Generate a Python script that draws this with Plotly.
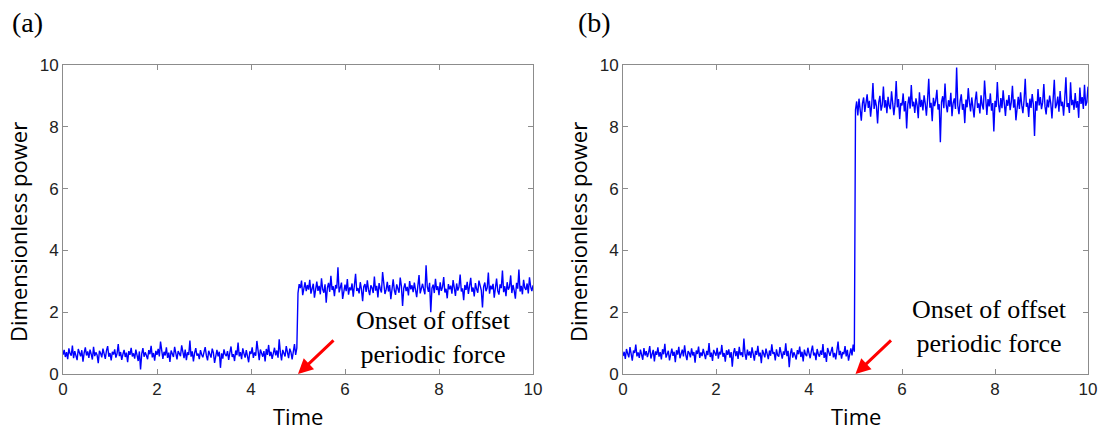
import numpy as np
import plotly.graph_objects as go

# ---- data ----
time_pre = np.arange(200) * 0.025          # 0 .. 4.975
time_post = 5.0 + np.arange(201) * 0.025   # 5.0 .. 10.0

a_pre = [0.62,0.78,0.55,0.71,0.48,0.83,0.66,0.59,0.92,0.51,
0.74,0.63,0.45,0.81,0.69,0.57,0.77,0.40,0.68,0.86,
0.60,0.73,0.52,0.79,0.64,0.47,0.88,0.58,0.70,0.62,
0.35,0.75,0.67,0.54,0.82,0.61,0.49,0.76,0.90,0.56,
0.68,0.44,0.72,0.63,0.80,0.53,0.66,0.97,0.58,0.71,
0.46,0.64,0.78,0.55,0.69,0.38,0.74,0.62,0.85,0.57,
0.67,0.50,0.79,0.61,0.42,0.73,0.15,0.65,0.84,0.56,
0.70,0.60,0.48,0.77,0.64,0.91,0.54,0.68,0.43,0.75,
0.62,0.81,0.57,1.05,0.66,0.49,0.72,0.60,0.86,0.52,
0.69,0.39,0.76,0.63,0.55,0.88,0.61,0.47,0.74,0.67,
0.58,0.93,0.64,0.51,0.79,0.45,0.70,0.62,1.08,0.56,
0.73,0.41,0.68,0.84,0.59,0.66,0.48,0.77,0.63,0.54,
0.71,0.87,0.60,0.44,0.75,0.65,0.53,0.82,0.69,0.36,
0.62,0.78,0.57,0.72,0.20,0.67,0.50,0.80,0.63,0.58,
0.74,0.46,0.69,0.89,0.55,0.64,0.42,0.76,0.61,1.02,
0.57,0.71,0.48,0.83,0.66,0.53,0.77,0.60,0.38,0.73,
0.65,0.86,0.52,0.70,0.59,1.07,0.63,0.45,0.79,0.68,
0.56,0.74,0.41,0.81,0.62,0.94,0.58,0.72,0.49,0.67,
0.85,0.60,0.76,0.53,1.12,0.69,0.44,0.78,0.63,0.57,
0.90,0.66,0.51,0.82,0.71,0.47,0.75,0.97,0.62,0.84]

a_post = [2.62,2.91,2.78,3.02,2.55,2.84,2.97,2.68,2.88,2.73,
3.05,2.60,2.81,2.92,2.47,2.76,2.99,2.69,2.85,2.58,
3.10,2.74,2.63,2.90,2.31,2.79,2.95,2.66,3.18,2.72,
2.84,2.52,2.88,2.77,3.45,2.64,2.81,2.96,2.43,2.75,
2.89,2.68,3.07,2.57,2.80,2.71,2.93,2.50,2.86,3.24,
2.69,2.78,2.61,2.97,2.74,2.36,2.83,2.91,2.66,3.03,
2.72,2.55,2.87,2.79,2.62,3.15,2.70,2.85,2.48,2.94,
2.76,2.64,3.30,2.81,2.59,2.73,2.98,2.67,2.88,2.42,
2.80,3.06,2.71,2.56,2.90,2.75,2.63,3.12,2.84,2.20,
2.77,2.93,2.68,2.82,2.54,3.01,2.74,2.87,2.65,2.96,
2.70,2.49,2.85,3.20,2.61,2.79,2.92,2.73,2.58,3.52,
2.83,2.66,2.95,2.00,2.78,2.89,2.62,3.08,2.72,2.84,
2.55,2.97,2.69,2.81,3.14,2.64,2.76,2.45,2.91,2.74,
2.86,2.60,3.04,2.79,2.53,2.93,2.70,2.82,3.22,2.67,
2.77,2.39,2.88,2.72,2.98,2.59,2.84,3.11,2.66,2.80,
2.51,2.94,2.75,2.63,3.02,2.87,2.71,2.15,2.83,2.96,
2.68,2.79,3.28,2.60,2.86,2.74,2.92,2.47,2.81,3.09,
2.69,2.57,2.90,2.78,3.35,2.65,2.84,2.52,2.97,2.73,
2.82,3.19,2.62,2.88,2.70,2.44,2.95,2.76,3.38,2.67,
2.85,2.58,3.05,2.79,2.72,2.93,2.61,3.13,2.83,2.68,
2.87]

b_pre = [0.58,0.72,0.49,0.81,0.66,0.54,0.87,0.61,0.43,0.76,
0.68,0.95,0.57,0.70,0.52,0.79,0.63,0.46,0.84,0.60,
0.74,0.55,0.69,0.90,0.50,0.65,0.78,0.41,0.73,0.62,
0.86,0.56,0.71,0.47,0.80,0.64,0.98,0.53,0.67,0.75,
0.44,0.69,0.82,0.59,0.72,0.38,0.77,0.63,0.88,0.51,
0.66,0.79,0.57,0.93,0.62,0.45,0.74,0.68,0.54,0.83,
0.60,0.71,0.37,0.76,0.65,0.89,0.52,0.70,0.58,0.81,
0.64,0.48,0.75,0.61,1.00,0.55,0.69,0.42,0.78,0.66,
0.59,0.85,0.50,0.72,0.63,0.94,0.56,0.68,0.40,0.77,
0.62,0.80,0.53,0.71,0.24,0.67,0.84,0.58,0.74,0.49,
0.88,0.61,0.70,0.55,1.15,0.64,0.46,0.79,0.60,0.73,
0.52,0.86,0.66,0.43,0.75,0.62,0.91,0.57,0.69,0.35,
0.78,0.63,0.54,0.82,0.67,0.48,0.76,0.59,0.96,0.65,
0.71,0.44,0.80,0.61,0.56,0.87,0.68,0.50,0.73,0.62,
0.99,0.58,0.75,0.22,0.66,0.83,0.53,0.70,0.60,0.47,
0.77,0.64,0.89,0.55,0.72,0.41,0.79,0.63,0.58,0.85,
0.67,0.51,0.74,0.92,0.60,0.69,0.45,0.81,0.65,0.56,
0.76,0.62,0.97,0.52,0.70,0.39,0.84,0.66,0.59,0.73,
0.88,0.54,0.68,0.47,0.80,1.05,0.61,0.75,0.50,0.71,
0.64,0.90,0.57,0.78,0.43,0.69,0.83,0.60,0.95,0.72]

b_post = [8.55,8.82,8.37,8.91,8.64,8.20,8.76,8.95,8.48,8.70,
9.05,8.61,8.84,8.33,8.73,9.42,8.58,8.88,8.66,8.11,
8.79,9.00,8.52,8.71,9.30,8.62,8.86,8.44,8.97,8.68,
8.57,9.15,8.80,8.38,8.74,9.48,8.63,8.90,8.25,8.77,
8.69,9.08,8.50,8.83,7.95,8.72,8.98,8.59,9.35,8.66,
8.81,8.45,8.92,8.70,8.28,9.12,8.64,8.87,8.53,9.02,
8.75,8.36,8.89,9.55,8.62,8.78,8.18,8.94,8.67,8.85,
9.20,8.56,8.73,7.50,8.80,8.99,8.60,9.40,8.71,8.47,
8.86,8.65,9.10,8.34,8.77,8.92,8.58,9.92,8.69,8.41,
8.83,9.05,8.55,8.74,8.12,8.88,8.63,9.25,8.79,8.50,
8.95,8.67,8.30,8.85,9.14,8.61,8.76,8.43,9.02,8.70,
8.56,9.50,8.81,8.38,8.90,8.66,9.08,8.52,8.77,7.85,
8.84,8.64,9.45,8.72,8.47,8.93,8.60,9.18,8.75,8.35,
8.87,8.68,9.03,8.54,8.80,9.33,8.62,8.89,8.21,8.74,
8.97,8.58,9.12,8.70,8.44,8.86,9.55,8.65,8.78,8.32,
8.91,8.61,9.06,8.73,7.70,8.83,8.52,9.22,8.69,8.96,
8.57,8.79,9.38,8.66,8.40,8.88,8.63,9.01,8.75,8.27,
8.85,9.52,8.60,8.72,8.98,8.49,9.16,8.67,8.81,8.36,
8.92,9.60,8.64,8.77,8.45,9.44,8.70,8.87,8.55,9.09,
8.62,8.83,8.29,9.27,8.74,8.96,8.58,9.36,8.68,8.80,
9.30]

tick_vals = [0, 2, 4, 6, 8, 10]
tick_text = ["0", "2", "4", "6", "8", "10"]
x_title = "Time"
y_title = "Dimensionless power"
note_text = "Onset of offset<br>periodic force"
onset_time = 5
panel_labels = ["(a)", "(b)"]

# ---- figure ----
W, H = 1101, 435
t_all = np.concatenate([time_pre, time_post])

fig = go.Figure()
fig.add_trace(go.Scatter(x=t_all, y=a_pre + a_post, mode="lines",
                         line=dict(color="#0000ff", width=1.4),
                         xaxis="x", yaxis="y", showlegend=False))
fig.add_trace(go.Scatter(x=t_all, y=b_pre + b_post, mode="lines",
                         line=dict(color="#0000ff", width=1.4),
                         xaxis="x2", yaxis="y2", showlegend=False))

def px_x(p):  # screen px -> paper
    return p / W

def px_y(p):
    return 1 - p / H

top_px, bot_px = 65, 374
dom_a = [px_x(63), px_x(533)]
dom_b = [px_x(623), px_x(1088)]
ydom = [px_y(bot_px), px_y(top_px)]

axis_common = dict(
    range=[0, 10], tickvals=tick_vals, ticktext=tick_text, automargin=False,
    showgrid=False, zeroline=False, showline=True, mirror="ticks",
    linecolor="#8c8c8c", linewidth=1, ticks="inside", ticklen=5,
    tickcolor="#8c8c8c", tickfont=dict(family="Arial, Liberation Sans", size=17, color="#222"),
)

fig.update_layout(
    width=W, height=H,
    margin=dict(l=0, r=0, t=0, b=0, autoexpand=False),
    paper_bgcolor="white", plot_bgcolor="white",
    xaxis=dict(domain=dom_a, anchor="y", **axis_common),
    yaxis=dict(domain=ydom, anchor="x", **axis_common),
    xaxis2=dict(domain=dom_b, anchor="y2", **axis_common),
    yaxis2=dict(domain=ydom, anchor="x2", **axis_common),
)

title_font = dict(family="Open Sans", size=22, color="black")
annots = []
for dom_px, xa, ya, lab_x, note_cx, note_cy, lab in [
    ((63, 533), "x", "y", 10, 433, 337, panel_labels[0]),
    ((623, 1088), "x2", "y2", 576, 989, 326, panel_labels[1]),
]:
    cx = (dom_px[0] + dom_px[1]) / 2
    annots.append(dict(text=x_title, xref="paper", yref="paper", x=px_x(cx), y=px_y(416),
                       showarrow=False, font=title_font, xanchor="center", yanchor="middle"))
    annots.append(dict(text=y_title, xref="paper", yref="paper",
                       x=px_x(dom_px[0] - 45), y=px_y(232), textangle=-90,
                       showarrow=False, font=title_font, xanchor="center", yanchor="middle"))
    annots.append(dict(text=lab, xref="paper", yref="paper", x=px_x(lab_x), y=px_y(22),
                       showarrow=False, xanchor="left", yanchor="middle",
                       font=dict(family="Liberation Serif", size=28, color="black")))
    annots.append(dict(text=note_text, xref="paper", yref="paper",
                       x=px_x(note_cx), y=px_y(note_cy), showarrow=False,
                       xanchor="center", yanchor="middle", align="center",
                       font=dict(family="Liberation Serif", size=26, color="black")))
    annots.append(dict(text="", x=onset_time, y=0, xref=xa, yref=ya,
                       showarrow=True, arrowhead=2, arrowsize=1, arrowwidth=3,
                       arrowcolor="#ff0000", ax=37, ay=-35, axref="pixel", ayref="pixel"))

fig.update_layout(annotations=annots)
fig.write_html("out.html", config={"displayModeBar": False},
               post_script="document.body.style.margin='0';document.body.style.overflow='hidden';")
